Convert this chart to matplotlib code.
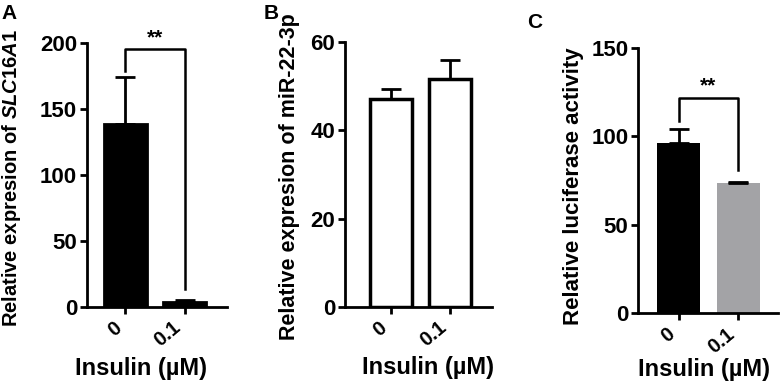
import matplotlib.pyplot as plt

plt.rcParams['font.family'] = ['Liberation Sans', 'DejaVu Sans']
plt.rcParams['font.weight'] = 'bold'
plt.rcParams['mathtext.fontset'] = 'custom'
plt.rcParams['mathtext.rm'] = 'Liberation Sans:bold'
plt.rcParams['mathtext.bf'] = 'Liberation Sans:bold'
plt.rcParams['mathtext.it'] = 'Liberation Sans:bold:italic'
plt.rcParams['mathtext.bfit'] = 'Liberation Sans:bold:italic'

doses = ['0', '0.1']

# panel A: SLC16A1 expression
slc_mean = [139, 4]
slc_err = [35, 1]

# panel B: miR-22-3p expression
mir_mean = [47, 51.7]
mir_err = [2.4, 4.3]

# panel C: luciferase activity
luc_mean = [96.5, 73.8]
luc_err = [7.8, 0.6]


def style_axis(ax, ymax, ystep, xlim):
    for side in ['top', 'right']:
        ax.spines[side].set_visible(False)
    for side in ['left', 'bottom']:
        ax.spines[side].set_linewidth(2)
    ax.set_xlim(*xlim)
    ax.set_ylim(0, ymax)
    ax.set_yticks(range(0, ymax + 1, ystep))
    ax.set_yticklabels([str(v) for v in range(0, ymax + 1, ystep)], fontsize=16, fontweight='bold')
    ax.set_xticks([0, 1])
    ax.set_xticklabels(doses, rotation=40, ha='right', fontsize=14.5, fontweight='bold')
    ax.tick_params(axis='y', width=2, length=5, pad=2)
    ax.tick_params(axis='x', width=2, length=5, pad=3)


def bracket(ax, y, yl, yr, star_y):
    ax.plot([0, 0, 1, 1], [yl, y, y, yr], color='black', lw=1.8, clip_on=False)
    ax.text(0.5, star_y, '**', ha='center', va='center', fontsize=15, clip_on=False)


fig = plt.figure(figsize=(7.82, 3.85), dpi=100)

# A
axA = fig.add_axes([0.111, 0.203, 0.179, 0.685])
axA.bar([0, 1], slc_mean, width=0.72, color='black', edgecolor='black', lw=2)
axA.errorbar([0, 1], slc_mean, yerr=[[0, 0], slc_err], fmt='none', ecolor='black',
             elinewidth=2, capsize=7, capthick=2)
style_axis(axA, 200, 50, (-0.65, 1.71))
bracket(axA, 195.5, 179, 13.6, 204)
axA.set_ylabel('Relative expresion of $\\mathit{SLC16A1}$', fontsize=14.5, fontweight='bold')
axA.yaxis.set_label_coords(-0.457, 0.49)
axA.set_xlabel('Insulin (µM)', fontsize=17, fontweight='bold')
axA.xaxis.set_label_coords(0.39, -0.235)
axA.xaxis.label.set_va('center')

# B
axB = fig.add_axes([0.441, 0.203, 0.188, 0.688])
axB.bar([0, 1], mir_mean, width=0.7, color='white', edgecolor='black', lw=2.5)
axB.errorbar([0, 1], mir_mean, yerr=[[0, 0], mir_err], fmt='none', ecolor='black',
             elinewidth=2, capsize=7, capthick=2)
style_axis(axB, 60, 20, (-0.77, 1.70))
axB.set_ylabel('Relative expresion of miR-22-3p', fontsize=15.5, fontweight='bold')
axB.yaxis.set_label_coords(-0.306, 0.49)
axB.set_xlabel('Insulin (µM)', fontsize=17, fontweight='bold')
axB.xaxis.set_label_coords(0.565, -0.23)
axB.xaxis.label.set_va('center')

# C
axC = fig.add_axes([0.816, 0.187, 0.179, 0.688])
axC.bar([0, 1], luc_mean, width=0.72, color=['black', '#a3a3a6'], edgecolor='none')
axC.errorbar([0, 1], luc_mean, yerr=[[0, 0], luc_err], fmt='none', ecolor='black',
             elinewidth=2, capsize=7, capthick=2)
style_axis(axC, 150, 50, (-0.68, 1.67))
bracket(axC, 121.7, 109, 81, 128.5)
axC.set_ylabel('Relative luciferase activity', fontsize=16, fontweight='bold')
axC.yaxis.set_label_coords(-0.39, 0.48)
axC.set_xlabel('Insulin (µM)', fontsize=17, fontweight='bold')
axC.xaxis.set_label_coords(0.47, -0.215)
axC.xaxis.label.set_va('center')

for lab, x, y in [('A', 0.002, 0.99), ('B', 0.337, 0.99), ('C', 0.674, 0.965)]:
    fig.text(x, y, lab, fontsize=15, fontweight='bold', va='top')

fig.savefig('out.png', dpi=100)
